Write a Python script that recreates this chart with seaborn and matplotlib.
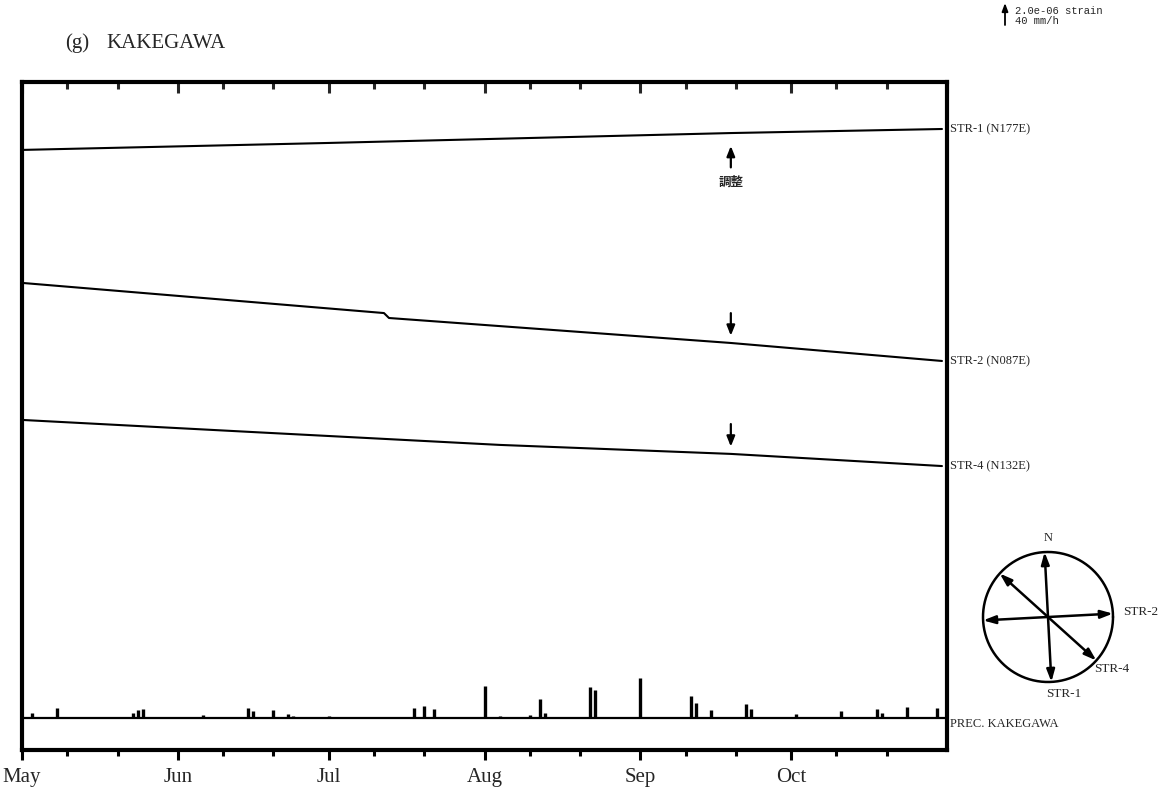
import numpy as np
import pandas as pd
import matplotlib
matplotlib.use("Agg")
import matplotlib.pyplot as plt
import matplotlib.dates as mdates
import seaborn as sns

sns.set_theme(style="white")
plt.rcParams['font.family'] = ['Liberation Serif', 'Noto Sans CJK JP', 'DejaVu Sans']

# ---------------- data (strain in 1e-6, precipitation in mm/h) ----------------
str1_dates = ["2000-05-01", "2000-07-01", "2000-09-19", "2000-10-31"]
str1_vals = [26.67, 26.98, 27.42, 27.60]

str2_dates = ["2000-05-01", "2000-07-12", "2000-07-13", "2000-08-01", "2000-09-19", "2000-10-31"]
str2_vals = [20.76, 19.42, 19.20, 18.89, 18.09, 17.29]

str4_dates = ["2000-05-01", "2000-06-16", "2000-08-04", "2000-09-19", "2000-10-31"]
str4_vals = [14.67, 14.13, 13.56, 13.16, 12.62]

prec_dates = ["2000-05-03", "2000-05-08", "2000-05-23", "2000-05-24", "2000-05-25",
              "2000-06-06", "2000-06-15", "2000-06-16", "2000-06-20", "2000-06-23",
              "2000-06-24", "2000-07-01", "2000-07-18", "2000-07-20", "2000-07-22",
              "2000-08-01", "2000-08-04", "2000-08-10", "2000-08-12", "2000-08-13",
              "2000-08-22", "2000-08-23", "2000-09-01", "2000-09-11", "2000-09-12",
              "2000-09-15", "2000-09-22", "2000-09-23", "2000-10-02", "2000-10-11",
              "2000-10-18", "2000-10-19", "2000-10-24", "2000-10-30"]
prec_vals = [4.4, 8.9, 4.4, 7.1, 8.0,
             2.7, 8.9, 6.2, 7.1, 3.6,
             1.8, 1.8, 8.9, 10.7, 8.0,
             28.4, 1.8, 2.7, 16.9, 4.4,
             27.6, 24.9, 35.6, 19.6, 13.3,
             7.1, 12.4, 8.0, 3.6, 6.2,
             8.0, 4.4, 9.8, 8.9]

labels = ["STR-1 (N177E)", "STR-2 (N087E)", "STR-4 (N132E)"]
azimuths = [177, 87, 132]
compass_names = ["STR-1", "STR-2", "STR-4"]
event_date = "2000-09-19"
event_label = "調整"
prec_label = "PREC. KAKEGAWA"
title_tag = "(g)"
title_name = "KAKEGAWA"
scale_strain = 2.0e-06
scale_prec = 40.0       # mm/h
month_labels = ["May", "Jun", "Jul", "Aug", "Sep", "Oct"]

prec_base = 1.42                     # strain units (1e-6), baseline of precip panel
prec_factor = scale_strain * 1e6 / scale_prec  # strain units per mm/h

# ---------------- figure ----------------
W, H = 1170, 794
fig = plt.figure(figsize=(W / 100, H / 100), dpi=100)
fig.patch.set_facecolor("white")

ax = fig.add_axes([22 / W, 44 / H, 925 / W, 668 / H])
ax.set_facecolor("white")
ymax = 668 / 22.5
ax.set_ylim(0, ymax)
x0, x1 = pd.Timestamp("2000-05-01"), pd.Timestamp("2000-11-01")
ax.set_xlim(x0, x1)

series = [(str1_dates, str1_vals), (str2_dates, str2_vals), (str4_dates, str4_vals)]
for d, v in series:
    df = pd.DataFrame({"date": pd.to_datetime(d), "val": v})
    sns.lineplot(data=df, x="date", y="val", ax=ax, color="black", lw=1.5)

# precipitation
pdf = pd.DataFrame({"date": pd.to_datetime(prec_dates), "mm": prec_vals})
ax.vlines(pdf["date"], prec_base, prec_base + pdf["mm"] * prec_factor, color="black", lw=2.4)
ax.axhline(prec_base, color="black", lw=1.6)

# event arrows
ev = pd.Timestamp(event_date)
evn = mdates.date2num(ev)
for i, (d, v) in enumerate(series):
    yv = np.interp(evn, mdates.date2num(pd.to_datetime(d)), v)
    if i == 0:
        ax.annotate("", xy=(ev, yv - 0.45), xytext=(ev, yv - 1.65),
                    arrowprops=dict(arrowstyle="-|>,head_length=0.5,head_width=0.2", color="black", lw=1.6))
        ax.text(ev, yv - 2.2, event_label, ha="center", va="center", fontsize=9,
                family=["Noto Sans CJK JP"], fontweight="bold")
    else:
        ax.annotate("", xy=(ev, yv + 0.2), xytext=(ev, yv + 1.45),
                    arrowprops=dict(arrowstyle="-|>,head_length=0.5,head_width=0.2", color="black", lw=1.6))
    ax.text(1.003, (v[-1]) / ymax, labels[i], transform=ax.transAxes, ha="left",
            va="center", fontsize=9)
ax.text(1.003, (prec_base - 0.27) / ymax, prec_label, transform=ax.transAxes,
        ha="left", va="center", fontsize=9)

# axes styling
for s in ax.spines.values():
    s.set_linewidth(3)
    s.set_color("black")
ax.set_xlabel("")
ax.set_ylabel("")
ax.set_yticks([])
ax.xaxis.set_minor_locator(mdates.DayLocator(bymonthday=[10, 20]))
ax.set_xticks(pd.date_range("2000-05-01", periods=6, freq="MS"))
ax.set_xticklabels(month_labels, fontsize=15)
ax.tick_params(axis="x", which="major", direction="out", length=7, width=2.2, pad=6,
               bottom=True, top=False, color="black")
ax.tick_params(axis="x", which="minor", direction="out", length=4, width=2.2,
               bottom=True, top=False, color="black")
sec = ax.secondary_xaxis("top")
sec.xaxis.set_major_locator(mdates.MonthLocator())
sec.xaxis.set_minor_locator(mdates.DayLocator(bymonthday=[10, 20]))
sec.tick_params(axis="x", which="major", direction="in", length=8, width=2.2, labeltop=False)
sec.tick_params(axis="x", which="minor", direction="in", length=5, width=2.2, labeltop=False)
sec.spines["top"].set_visible(False)

# title
fig.text(65 / W, 1 - 43 / H, title_tag, fontsize=15, ha="left", va="center")
fig.text(106 / W, 1 - 43 / H, title_name, fontsize=15, ha="left", va="center")

# scale bar
ax_s = fig.add_axes([995 / W, 1 - 25 / H, 20 / W, 22 / H])
ax_s.set_axis_off()
ax_s.set_xlim(0, 1)
ax_s.set_ylim(0, scale_strain)
ax_s.annotate("", xy=(0.5, scale_strain), xytext=(0.5, 0),
              arrowprops=dict(arrowstyle="-|>,head_length=0.4,head_width=0.15",
                              color="black", lw=1.3, shrinkA=0, shrinkB=0))
fig.text(1015 / W, 1 - 11 / H, f"{scale_strain:.1e} strain",
         fontsize=7.6, family=["Liberation Mono"], ha="left", va="center")
fig.text(1015 / W, 1 - 21 / H, f"{scale_prec:.0f} mm/h", fontsize=7.6,
         family=["Liberation Mono"], ha="left", va="center")

# compass
cx, cy, R = 1048, 617, 65
ax_c = fig.add_axes([(cx - 110) / W, 1 - (cy + 110) / H, 220 / W, 220 / H])
ax_c.set_xlim(-110, 110)
ax_c.set_ylim(-110, 110)
ax_c.set_aspect("equal")
ax_c.set_axis_off()
th = np.linspace(0, 2 * np.pi, 200)
ax_c.plot(R * np.cos(th), R * np.sin(th), color="black", lw=1.8)
for az, nm in zip(azimuths, compass_names):
    a = np.deg2rad(az)
    dx, dy = np.sin(a) * R, np.cos(a) * R
    ax_c.annotate("", xy=(dx, dy), xytext=(-dx, -dy),
                  arrowprops=dict(arrowstyle="<|-|>,head_length=0.6,head_width=0.2",
                                  color="black", lw=1.8, shrinkA=0, shrinkB=0))
ax_c.text(0, R + 14, "N", ha="center", va="center", fontsize=9)
ax_c.text(R + 10, 5, "STR-2", ha="left", va="center", fontsize=9.5)
ax_c.text(46, -52, "STR-4", ha="left", va="center", fontsize=9.5)
ax_c.text(16, -77, "STR-1", ha="center", va="center", fontsize=9.5)

fig.savefig("out.png", dpi=100, facecolor="white")
